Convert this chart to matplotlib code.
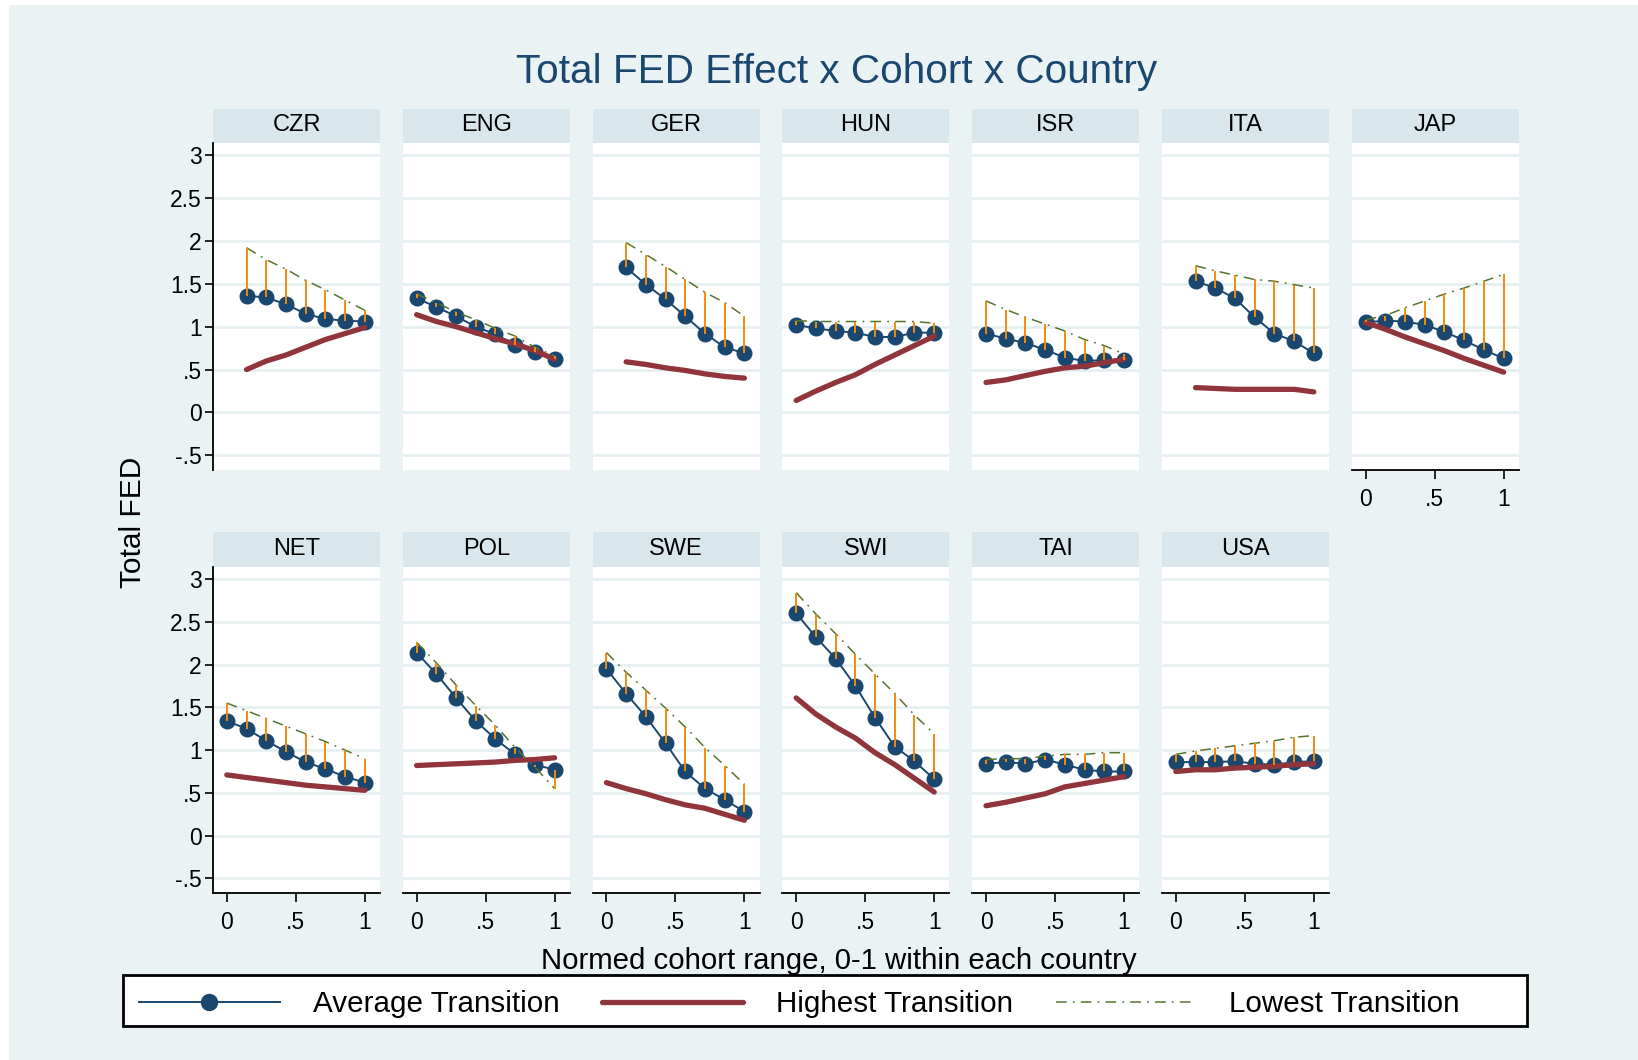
import matplotlib
matplotlib.use('Agg')
import matplotlib.pyplot as plt
from matplotlib.lines import Line2D
from matplotlib.patches import Rectangle

plt.rcParams['font.family'] = ['Liberation Sans', 'DejaVu Sans']

# panel order (two rows of the Stata by() graph)
countries = ['CZR', 'ENG', 'GER', 'HUN', 'ISR', 'ITA', 'JAP',
             'NET', 'POL', 'SWE', 'SWI', 'TAI', 'USA']

# normed cohort positions (some countries lack the first cohort)
x_full = [0, .143, .286, .429, .571, .714, .857, 1]
x_short = [.143, .286, .429, .571, .714, .857, 1]

avg_fed = {
    'CZR': [1.36, 1.34, 1.26, 1.15, 1.09, 1.07, 1.06],
    'ENG': [1.33, 1.23, 1.12, 1.00, 0.91, 0.79, 0.70, 0.62],
    'GER': [1.69, 1.49, 1.32, 1.12, 0.92, 0.76, 0.69],
    'HUN': [1.02, 0.98, 0.95, 0.93, 0.88, 0.88, 0.93, 0.93],
    'ISR': [0.92, 0.86, 0.81, 0.73, 0.64, 0.60, 0.61, 0.61],
    'ITA': [1.53, 1.45, 1.33, 1.11, 0.92, 0.83, 0.69],
    'JAP': [1.05, 1.07, 1.06, 1.02, 0.94, 0.84, 0.73, 0.63],
    'NET': [1.34, 1.25, 1.11, 0.98, 0.86, 0.78, 0.69, 0.62],
    'POL': [2.14, 1.89, 1.61, 1.34, 1.13, 0.95, 0.83, 0.77],
    'SWE': [1.95, 1.66, 1.39, 1.08, 0.75, 0.55, 0.42, 0.28],
    'SWI': [2.60, 2.32, 2.07, 1.75, 1.38, 1.04, 0.87, 0.66],
    'TAI': [0.84, 0.86, 0.84, 0.89, 0.83, 0.77, 0.75, 0.75],
    'USA': [0.86, 0.86, 0.86, 0.87, 0.84, 0.83, 0.86, 0.87],
}

high_fed = {
    'CZR': [0.50, 0.60, 0.67, 0.76, 0.85, 0.92, 0.99],
    'ENG': [1.14, 1.06, 1.00, 0.93, 0.86, 0.80, 0.72, 0.62],
    'GER': [0.59, 0.56, 0.52, 0.49, 0.45, 0.42, 0.40],
    'HUN': [0.14, 0.25, 0.35, 0.44, 0.56, 0.67, 0.78, 0.89],
    'ISR': [0.35, 0.38, 0.43, 0.48, 0.52, 0.54, 0.58, 0.62],
    'ITA': [0.29, 0.28, 0.27, 0.27, 0.27, 0.27, 0.24],
    'JAP': [1.05, 0.97, 0.88, 0.80, 0.72, 0.63, 0.55, 0.47],
    'NET': [0.71, 0.68, 0.65, 0.62, 0.59, 0.57, 0.55, 0.53],
    'POL': [0.82, 0.83, 0.84, 0.85, 0.86, 0.88, 0.89, 0.91],
    'SWE': [0.62, 0.55, 0.49, 0.42, 0.36, 0.32, 0.25, 0.18],
    'SWI': [1.61, 1.42, 1.27, 1.14, 0.97, 0.83, 0.67, 0.51],
    'TAI': [0.35, 0.39, 0.44, 0.49, 0.57, 0.61, 0.65, 0.69],
    'USA': [0.75, 0.77, 0.77, 0.79, 0.80, 0.81, 0.83, 0.84],
}

low_fed = {
    'CZR': [1.92, 1.78, 1.67, 1.54, 1.43, 1.31, 1.19],
    'ENG': [1.38, 1.28, 1.17, 1.08, 0.98, 0.89, 0.76, 0.66],
    'GER': [1.98, 1.84, 1.70, 1.55, 1.40, 1.28, 1.12],
    'HUN': [1.07, 1.06, 1.06, 1.06, 1.06, 1.06, 1.06, 1.04],
    'ISR': [1.30, 1.20, 1.11, 1.03, 0.95, 0.85, 0.78, 0.68],
    'ITA': [1.71, 1.65, 1.60, 1.55, 1.53, 1.49, 1.45],
    'JAP': [1.08, 1.13, 1.22, 1.30, 1.38, 1.45, 1.53, 1.61],
    'NET': [1.55, 1.46, 1.37, 1.28, 1.19, 1.10, 1.00, 0.90],
    'POL': [2.26, 2.02, 1.76, 1.52, 1.29, 1.03, 0.80, 0.55],
    'SWE': [2.14, 1.91, 1.70, 1.49, 1.27, 1.03, 0.82, 0.60],
    'SWI': [2.84, 2.59, 2.36, 2.12, 1.89, 1.66, 1.41, 1.19],
    'TAI': [0.89, 0.90, 0.90, 0.93, 0.95, 0.95, 0.97, 0.97],
    'USA': [0.95, 0.99, 1.02, 1.05, 1.08, 1.11, 1.15, 1.17],
}

y_ticks = [-.5, 0, .5, 1, 1.5, 2, 2.5, 3]
y_labels = ['-.5', '0', '.5', '1', '1.5', '2', '2.5', '3']
x_ticks = [0, .5, 1]
x_labels = ['0', '.5', '1']

# Stata s2color look
BG = '#EAF2F3'
STRIP = '#D9E6EB'
NAVY = '#1A476F'
MAROON = '#90353B'
GREEN = '#55752F'
ORANGE = '#F08C0A'
DASHDOT = (0, (7, 4, 1.2, 4))

W, H = 1638, 1060
fig = plt.figure(figsize=(W / 100, H / 100), dpi=100)
fig.patch.set_facecolor('white')
fig.patches.append(Rectangle((9 / W, 0), 1 - 9 / W, 1 - 5 / H, transform=fig.transFigure,
                             facecolor=BG, edgecolor='none', zorder=-10))


def fig_box(left, top, width, height):
    # pixel box (from top-left) -> figure fraction rect
    return [left / W, 1 - (top + height) / H, width / W, height / H]


col_left = [213 + i * 189.8 for i in range(7)]
panel_w = 167
rows = [(109, 143, 470), (532, 567, 893)]  # strip top, plot top, plot bottom

for i, c in enumerate(countries):
    r, col = divmod(i, 7)
    strip_top, plot_top, plot_bot = rows[r]
    left = col_left[col]

    # strip with country name
    sax = fig.add_axes(fig_box(left, strip_top, panel_w, plot_top - strip_top))
    sax.set_facecolor(STRIP)
    sax.set_xticks([])
    sax.set_yticks([])
    for s in sax.spines.values():
        s.set_visible(False)
    sax.text(0.5, 0.52, c, ha='center', va='center', fontsize=17, transform=sax.transAxes)

    ax = fig.add_axes(fig_box(left, plot_top, panel_w, plot_bot - plot_top))
    ax.set_facecolor('white')
    xs = x_short if len(avg_fed[c]) == 7 else x_full

    ax.plot(xs, avg_fed[c], color=NAVY, lw=1.4, marker='o', ms=10.5, zorder=3)
    ax.plot(xs, high_fed[c], color=MAROON, lw=3.8, solid_capstyle='round', zorder=4)
    ax.plot(xs, low_fed[c], color=GREEN, lw=1.1, ls=DASHDOT, zorder=4)
    ax.vlines(xs, avg_fed[c], low_fed[c], color=ORANGE, lw=1.4, zorder=5)

    ax.set_xlim(-0.1, 1.11)
    ax.set_ylim(-0.67, 3.14)
    ax.set_yticks(y_ticks)
    ax.set_xticks(x_ticks)
    ax.grid(axis='y', color='#E4EDF0', lw=1.8)
    ax.grid(axis='x', visible=False)
    ax.set_axisbelow(True)
    for s in ax.spines.values():
        s.set_visible(False)

    if col == 0:
        ax.spines['left'].set_visible(True)
        ax.spines['left'].set_linewidth(1.3)
        ax.set_yticklabels(y_labels, fontsize=16.5)
        ax.tick_params(axis='y', length=6, width=1.2, pad=2)
    else:
        ax.tick_params(axis='y', length=0, labelleft=False)

    if r == 1 or c == 'JAP':
        ax.spines['bottom'].set_visible(True)
        ax.spines['bottom'].set_linewidth(1.3)
        ax.set_xticklabels(x_labels, fontsize=16.5)
        ax.tick_params(axis='x', length=6.5, width=1.2, pad=6.5)
    else:
        ax.tick_params(axis='x', length=0, labelbottom=False)

fig.text(837 / W, 1 - 72 / H, 'Total FED Effect x Cohort x Country', ha='center', va='center',
         fontsize=29.2, color=NAVY)
fig.text(133 / W, 1 - 522 / H, 'Total FED', rotation=90, ha='center', va='center', fontsize=21.5)
fig.text(839 / W, 1 - 961 / H, 'Normed cohort range, 0-1 within each country',
         ha='center', va='center', fontsize=21.2)

# legend box drawn separately (Stata keeps it wider than its contents)
fig.patches.append(Rectangle((123 / W, 1 - 1026 / H), 1404 / W, 51 / H, transform=fig.transFigure,
                             facecolor='white', edgecolor='black', lw=2, zorder=5))
handles = [
    Line2D([], [], color=NAVY, lw=1.4, marker='o', ms=11.5),
    Line2D([], [], color=MAROON, lw=3.8, solid_capstyle='round'),
    Line2D([], [], color=GREEN, lw=1.1, ls=DASHDOT),
]
labels = ['Average Transition', 'Highest Transition', 'Lowest Transition']
leg = fig.legend(handles, labels, loc='center left', bbox_to_anchor=(139 / W, 1 - 1004 / H),
                 ncol=3, frameon=False, handlelength=4.75, handletextpad=1.12,
                 columnspacing=1.45, borderaxespad=0, borderpad=0, fontsize=21.3)
leg.set_zorder(6)

fig.savefig('out.png', dpi=100)
